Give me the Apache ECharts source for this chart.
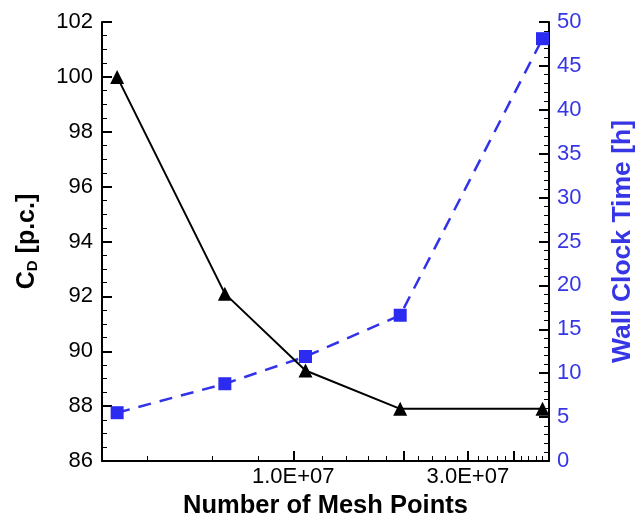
<!DOCTYPE html>
<html>
<head>
<meta charset="utf-8">
<script src="https://cdn.jsdelivr.net/npm/echarts@6/dist/echarts.min.js"></script>
<style>
  html,body{margin:0;padding:0;background:#fff;}
  #chart_wrap{width:644px;height:516px;}
</style>
</head>
<body>
<div id="chart_wrap"></div>
<script>
var meshPoints=[3.3e6,6.5e6,1.08e7,1.96e7,4.8e7];
var cdValues=[100.0,92.1,89.3,87.9,87.9];
var wallTime=[5.5,8.8,11.9,16.6,48.1];
var xLabelValues=[1e7,3e7];
var xMajorTicks=[1e7,2e7,3e7,4e7];
var xMinorTicks=[4e6,6e6,8e6,1.2e7,1.4e7,1.6e7,1.8e7,2.2e7,2.4e7,2.6e7,2.8e7,3.2e7,3.4e7,3.6e7,3.8e7,4.2e7,4.4e7,4.6e7,4.8e7];

var objChart=echarts.init(document.getElementById('chart_wrap'));
var blue='#3636e6';
var font='"Liberation Sans", Arial, sans-serif';

var pairs=function(xs,ys){
  return xs.map(function(v,i){ return [v,ys[i]]; });
};

var option={
  backgroundColor:'#fff',
  animation:false,
  textStyle:{fontFamily:font},
  grid:{left:102,right:95,top:22,bottom:55,outerBoundsMode:'none',containLabel:false},
  xAxis:[
    {
      type:'log',
      min:3e6,
      max:5e7,
      position:'bottom',
      name:'Number of Mesh Points',
      nameLocation:'middle',
      nameGap:24,
      nameTextStyle:{fontSize:25.5,fontWeight:'bold',color:'#000',fontFamily:font},
      axisLine:{show:true,lineStyle:{color:'#000',width:2}},
      axisTick:{show:true,inside:true,length:10,lineStyle:{color:'#000',width:2},customValues:xMajorTicks},
      axisLabel:{
        color:'#000',fontSize:22,margin:5,fontFamily:font,
        customValues:xLabelValues,
        formatter:function(v){ return v.toExponential(1).toUpperCase().replace(/E\+(\d)$/,'E+0$1'); }
      },
      splitLine:{show:false},
      minorTick:{show:false}
    },
    {
      type:'log',
      min:3e6,
      max:5e7,
      position:'bottom',
      axisLine:{show:false},
      axisTick:{show:true,inside:true,length:5,lineStyle:{color:'#000',width:1},customValues:xMinorTicks},
      axisLabel:{show:false},
      splitLine:{show:false}
    }
  ],
  yAxis:[
    {
      type:'value',
      min:86,
      max:102,
      interval:2,
      position:'left',
      name:'C{sub|D} [p.c.]',
      nameLocation:'middle',
      nameRotate:90,
      nameGap:62,
      nameTextStyle:{
        fontSize:25,fontWeight:'bold',color:'#000',fontFamily:font,
        rich:{sub:{fontSize:15,fontWeight:'bold',color:'#000',verticalAlign:'bottom',padding:[10,0,0,0]}}
      },
      axisLine:{show:true,lineStyle:{color:'#000',width:2}},
      axisTick:{show:true,inside:true,length:10,lineStyle:{color:'#000',width:2}},
      minorTick:{show:true,splitNumber:4,length:5,lineStyle:{color:'#000',width:1}},
      axisLabel:{color:'#000',fontSize:22,margin:9,fontFamily:font},
      splitLine:{show:false}
    },
    {
      type:'value',
      min:0,
      max:50,
      interval:5,
      position:'right',
      name:'Wall Clock Time [h]',
      nameLocation:'middle',
      nameRotate:90,
      nameGap:60,
      nameTextStyle:{fontSize:26.5,fontWeight:'bold',color:blue,fontFamily:font},
      axisLine:{show:true,lineStyle:{color:'#000',width:2}},
      axisTick:{show:true,inside:true,length:10,lineStyle:{color:'#000',width:2}},
      minorTick:{show:true,splitNumber:5,length:5,lineStyle:{color:'#000',width:1}},
      axisLabel:{color:blue,fontSize:22,margin:8,fontFamily:font},
      splitLine:{show:false}
    }
  ],
  series:[
    {
      type:'line',
      xAxisIndex:0,
      yAxisIndex:0,
      data:pairs(meshPoints,cdValues),
      symbol:'triangle',
      symbolSize:14,
      itemStyle:{color:'#000'},
      lineStyle:{color:'#000',width:2},
      z:3
    },
    {
      type:'line',
      xAxisIndex:0,
      yAxisIndex:1,
      data:pairs(meshPoints,wallTime),
      symbol:'rect',
      symbolSize:13,
      itemStyle:{color:'#2b2bf2'},
      lineStyle:{color:'#3232ea',width:2.5,type:[13,9]},
      z:2
    }
  ]
};

objChart.setOption(option);
</script>
</body>
</html>
